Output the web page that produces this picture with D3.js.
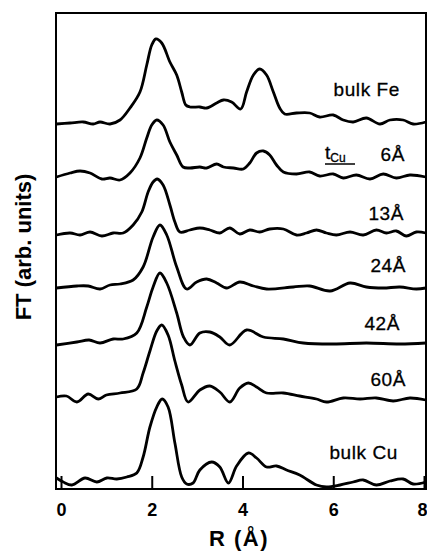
<!DOCTYPE html>
<html><head><meta charset="utf-8">
<script src="https://cdn.jsdelivr.net/npm/d3@7"></script>
<style>html,body{margin:0;padding:0;background:#fff;}svg{display:block;}</style>
</head><body>
<svg id="c" width="427" height="552"></svg>
<script>
// ---- data (R in Å, FT in arbitrary units relative to each curve's baseline) ----
const xTicks = [0, 2, 4, 6, 8];
const labels = ["bulk Fe", "6Å", "13Å", "24Å", "42Å", "60Å", "bulk Cu"];
const offsets = [367, 314, 257, 202, 146, 91, 8];

const rFe = [-0.1,0.2,0.49,0.71,0.86,1.08,1.30,1.52,1.74,1.89,2.0,2.09,2.22,2.40,2.55,2.66,2.75,2.84,3.06,3.21,3.43,3.58,3.76,3.96,4.09,4.24,4.38,4.53,4.68,4.82,4.93,5.19,5.48,5.70,6.0,6.22,6.44,6.73,7.03,7.25,7.54,7.76,8.04];
const fFe = [-2,-1,0,-2,0,-2,2,14,30,57,77,83,79,60,47,30,17,15,15,14,19,22,20,13,30,47,53,47,30,14,8,9,9,5,7,2,0,4,-2,2,2,-2,0];

const r6 = [-0.1,0.2,0.42,0.64,0.9,1.08,1.3,1.52,1.74,1.89,2.0,2.11,2.25,2.4,2.55,2.69,2.84,3.06,3.21,3.43,3.58,3.8,4.02,4.16,4.31,4.46,4.6,4.75,4.9,5.19,5.48,5.7,6.0,6.22,6.51,6.81,7.1,7.39,7.69,8.04];
const f6 = [-2,2,4,2,-4,-3,-5,2,17,37,50,55,50,33,20,8,7,8,7,11,8,7,6,12,22,24,20,10,3,1,3,-1,1,-3,0,-4,1,-3,0,-2];

const r13 = [-0.1,0.2,0.42,0.64,0.9,1.15,1.37,1.59,1.78,1.92,2.03,2.12,2.25,2.4,2.51,2.62,2.84,3.06,3.28,3.5,3.72,3.94,4.16,4.38,4.6,4.9,5.19,5.41,5.63,5.85,6.07,6.37,6.66,6.95,7.17,7.39,7.61,7.83,8.04];
const f13 = [-3,-1,-3,0,-4,-1,-1,7,20,40,50,53,47,27,10,0,2,4,2,-1,4,-2,2,0,3,3,-3,-1,2,-1,-3,0,-3,2,-1,1,-4,0,-1];

const r24 = [-0.1,0.35,0.6,0.86,1.08,1.3,1.59,1.81,2.03,2.18,2.33,2.55,2.77,2.99,3.21,3.43,3.65,3.94,4.24,4.53,5.12,5.48,5.93,6.37,6.73,7.1,7.47,7.83,8.04];
const f24 = [-1,1,1,-2,2,3,7,20,50,62,52,20,-2,5,8,4,-1,5,1,-2,0,1,-4,4,0,-1,0,-2,-1];

const r42 = [-0.1,0.35,0.62,0.86,1.15,1.37,1.67,1.89,2.03,2.18,2.33,2.55,2.7,2.84,3.06,3.28,3.5,3.72,4.09,4.46,4.9,5.34,6.0,6.73,7.47,8.04];
const f42 = [-2,1,3,0,4,4,10,36,56,70,60,30,6,-2,10,11,6,-2,13,6,4,0,-1,0,-1,0];

const r60 = [-0.1,0.12,0.35,0.6,0.82,1.0,1.3,1.67,1.81,1.96,2.11,2.22,2.36,2.51,2.66,2.8,3.06,3.28,3.5,3.72,3.94,4.13,4.31,4.53,4.9,5.26,5.63,5.85,6.22,6.59,6.95,7.32,7.69,8.04];
const f60 = [1,2,-4,4,-1,3,5,9,25,47,67,73,63,37,13,-4,8,12,6,-4,10,15,11,5,5,2,-1,-4,0,-1,0,-3,0,-2];

const rCu = [-0.1,0.05,0.24,0.53,0.79,1.01,1.23,1.45,1.67,1.81,1.96,2.11,2.23,2.36,2.51,2.66,2.77,2.91,3.06,3.32,3.5,3.69,3.87,4.13,4.31,4.53,4.75,4.97,5.26,5.63,5.85,6.15,6.44,6.66,6.95,7.25,7.54,7.76,8.04];
const fCu = [3,-1,-4,3,-1,3,2,4,8,24,54,74,82,74,38,4,-3,-2,11,19,14,-2,15,28,23,14,15,11,6,-4,-6,-4,-1,1,-4,0,2,-3,-1];

const rs = [rFe, r6, r13, r24, r42, r60, rCu];
const fs = [fFe, f6, f13, f24, f42, f60, fCu];

// ---- layout ----
const svg = d3.select("#c");
const frame = {left: 56, right: 426, top: 13, bottom: 489};
const x = d3.scaleLinear().domain([0, 8]).range([61, 424]);
const y = d3.scaleLinear().domain([0, 476]).range([frame.bottom, frame.top]);
const font = "'Liberation Sans', Arial, Helvetica, sans-serif";

const line = d3.line().x(d => x(d[0])).y(d => y(d[1])).curve(d3.curveCatmullRom.alpha(0.5));

rs.forEach((r, i) => {
  const pts = r.map((rv, j) => [rv, offsets[i] + fs[i][j]]);
  svg.append("path").attr("d", line(pts))
    .attr("fill", "none").attr("stroke", "#000").attr("stroke-width", 2.8)
    .attr("stroke-linejoin", "round").attr("stroke-linecap", "round");
});

// frame
svg.append("rect").attr("x", frame.left).attr("y", frame.top)
  .attr("width", frame.right - frame.left).attr("height", frame.bottom - frame.top)
  .attr("fill", "none").attr("stroke", "#000").attr("stroke-width", 2);

// bottom axis with inward ticks
const ax = svg.append("g").attr("transform", `translate(0,${frame.bottom})`)
  .call(d3.axisBottom(x).tickValues(xTicks).tickFormat(d3.format("d"))
    .tickSizeInner(-13).tickSizeOuter(0).tickPadding(14));
ax.select(".domain").remove();
ax.selectAll(".tick line").attr("stroke", "#000").attr("stroke-width", 2);
ax.selectAll(".tick text").attr("font-family", font).attr("font-size", 18)
  .attr("font-weight", "bold").attr("fill", "#000");
// last label kept inside the window
ax.selectAll(".tick text").filter(d => d === 8).attr("text-anchor", "end").attr("x", 3);

// axis titles
svg.append("text").attr("x", 239).attr("y", 546).attr("text-anchor", "middle")
  .attr("font-family", font).attr("font-size", 22).attr("font-weight", "bold")
  .attr("letter-spacing", 1.5).text("R (Å)");
svg.append("text").attr("transform", "translate(31,247) rotate(-90)")
  .attr("text-anchor", "middle").attr("font-family", font).attr("font-size", 22)
  .attr("font-weight", "bold").text("FT (arb. units)");

// curve labels
const labelX = [400, 405, 404, 406, 400, 406, 398];
const labelY = [96, 161, 220, 272, 330, 386, 459];
labels.forEach((t, i) => {
  svg.append("text").attr("x", labelX[i]).attr("y", labelY[i])
    .attr("text-anchor", "end").attr("font-family", font).attr("font-size", 19)
    .attr("letter-spacing", 0.6).attr("stroke", "#000").attr("stroke-width", 0.3)
    .text(t);
});
// t_Cu annotation
const tl = svg.append("text").attr("x", 325).attr("y", 159)
  .attr("font-family", font).attr("font-size", 19).attr("stroke", "#000").attr("stroke-width", 0.3);
tl.append("tspan").text("t");
tl.append("tspan").attr("font-size", 12).attr("dy", 3).text("Cu");
svg.append("line").attr("x1", 325).attr("x2", 355).attr("y1", 164).attr("y2", 164)
  .attr("stroke", "#000").attr("stroke-width", 1.5);
</script>
</body></html>
